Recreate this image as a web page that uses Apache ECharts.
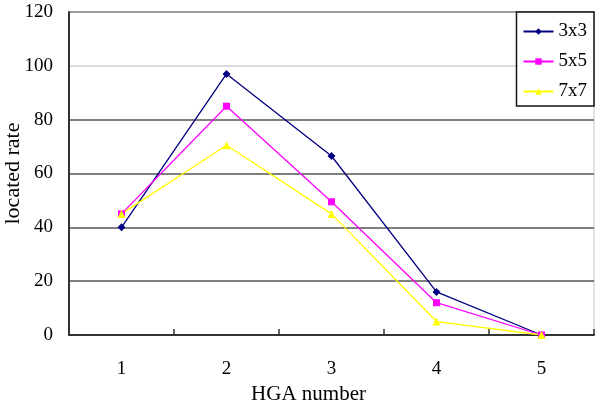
<!DOCTYPE html>
<html><head><meta charset="utf-8">
<script src="https://cdn.jsdelivr.net/npm/echarts@6/dist/echarts.min.js"></script>
<style>html,body{margin:0;padding:0;background:#fff}#c{width:599px;height:415px}</style>
</head><body><div id="c"></div>
<script>
const categories = ['1','2','3','4','5'];
const s3x3 = [40, 97, 66.5, 16, 0];
const s5x5 = [45, 85, 49.5, 12, 0];
const s7x7 = [45, 70.5, 45, 5, 0];
const seriesNames = ['3x3','5x5','7x7'];
const yTicks = [0,20,40,60,80,100,120];

const font = 'Liberation Serif, Times New Roman, serif';
const chart = echarts.init(document.getElementById('c'));
chart.setOption({
  backgroundColor:'#fff',
  animation:false,
  grid:{left:69,right:5,top:12,bottom:80,show:true,borderColor:'#c8c8c8',borderWidth:1,
        outerBoundsMode:'none',containLabel:false},
  legend:{
    orient:'vertical', right:5, top:12,
    data:seriesNames,
    backgroundColor:'#fff',
    borderColor:'#111', borderWidth:1.5,
    padding:[10,7,5,6],
    itemGap:11, itemWidth:30, itemHeight:8,
    textStyle:{fontFamily:font,fontSize:19,color:'#000'}
  },
  xAxis:{
    type:'category', data:categories, boundaryGap:true,
    name:'HGA number', nameLocation:'middle', nameGap:43,
    nameTextStyle:{fontFamily:font,fontSize:21,color:'#000',padding:[0,46,0,0]},
    axisLine:{lineStyle:{color:'#333',width:2}},
    axisTick:{show:true,length:6,inside:true,lineStyle:{color:'#333',width:1.5}},
    axisLabel:{fontFamily:font,fontSize:19,color:'#000',margin:25},
    splitLine:{show:false}
  },
  yAxis:{
    type:'value', min:0, max:120, interval:20,
    name:'located rate', nameLocation:'middle', nameGap:45, nameMoveOverlap:false,
    nameTextStyle:{fontFamily:font,fontSize:22,color:'#000'},
    axisLine:{show:true,lineStyle:{color:'#333',width:2}},
    axisTick:{show:false},
    axisLabel:{fontFamily:font,fontSize:19,color:'#000',margin:16},
    splitLine:{show:true,lineStyle:{color:['#555','#555','#555','#555','#555','#cfcfcf','#888'],width:1.5}}
  },
  series:[
    {name:'3x3',type:'line',data:s3x3,symbol:'diamond',symbolSize:8,
     itemStyle:{color:'#000080'},lineStyle:{color:'#000080',width:1.3}},
    {name:'5x5',type:'line',data:s5x5,symbol:'rect',symbolSize:7,
     itemStyle:{color:'#ff00ff'},lineStyle:{color:'#ff00ff',width:1.3}},
    {name:'7x7',type:'line',data:s7x7,symbol:'triangle',symbolSize:8,
     itemStyle:{color:'#ffff00'},lineStyle:{color:'#ffff00',width:1.3}}
  ]
});
</script></body></html>
